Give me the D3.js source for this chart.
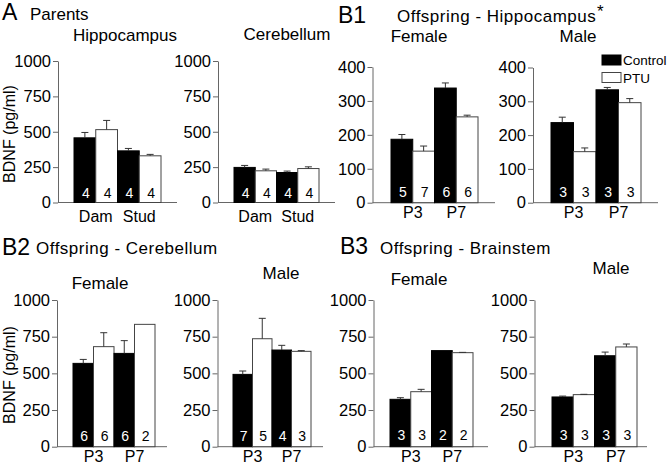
<!DOCTYPE html>
<html><head><meta charset="utf-8">
<script src="https://cdn.jsdelivr.net/npm/d3@7"></script>
<style>
body{margin:0;background:#fff;}
svg{display:block;font-family:"Liberation Sans",Arial,Helvetica,sans-serif;}
</style></head>
<body><svg id="chart" width="667" height="466"></svg>
<script>
// ---- Data ----
const seriesNames = ["Control", "PTU"];
const parentGroups = ["Dam", "Stud"];
const offspringGroups = ["P3", "P7"];
const ticks1000 = [0, 250, 500, 750, 1000];
const ticks400 = [0, 100, 200, 300, 400];

// order: group1-Control, group1-PTU, group2-Control, group2-PTU
const parentsHipMean = [457, 515, 365, 330];
const parentsHipErr  = [38, 65, 17, 10];
const parentsHipN    = [4, 4, 4, 4];

const parentsCbMean = [248, 224, 212, 240];
const parentsCbErr  = [14, 12, 10, 12];
const parentsCbN    = [4, 4, 4, 4];

const hipFemaleMean = [187, 152, 338, 253];
const hipFemaleErr  = [14, 15, 15, 5];
const hipFemaleN    = [5, 7, 6, 6];

const hipMaleMean = [237, 151, 334, 296];
const hipMaleErr  = [16, 11, 7, 12];
const hipMaleN    = [3, 3, 3, 3];

const cbFemaleMean = [568, 682, 636, 834];
const cbFemaleErr  = [27, 95, 87, 0];
const cbFemaleN    = [6, 6, 6, 2];

const cbMaleMean = [493, 736, 659, 650];
const cbMaleErr  = [23, 139, 32, 5];
const cbMaleN    = [7, 5, 4, 3];

const bsFemaleMean = [323, 375, 655, 641];
const bsFemaleErr  = [11, 16, 0, 2];
const bsFemaleN    = [3, 3, 2, 2];

const bsMaleMean = [339, 355, 620, 680];
const bsMaleErr  = [6, 2, 25, 20];
const bsMaleN    = [3, 3, 3, 3];

// ---- Layout ----
const panels = [
  {mean: parentsHipMean, err: parentsHipErr, n: parentsHipN, groups: parentGroups, ticks: ticks1000,
   ax: 58, axEnd: 177, barL: 74, barR: 161, top: 61, bottom: 202.5, nY: 198, xlY: 222,
   title: "Hippocampus", tx: 125, ty: 41},
  {mean: parentsCbMean, err: parentsCbErr, n: parentsCbN, groups: parentGroups, ticks: ticks1000,
   ax: 218, axEnd: 335, barL: 234, barR: 319, top: 61, bottom: 202.5, nY: 198, xlY: 222,
   title: "Cerebellum", tx: 287, ty: 40},
  {mean: hipFemaleMean, err: hipFemaleErr, n: hipFemaleN, groups: offspringGroups, ticks: ticks400,
   ax: 372.5, axEnd: 495, barL: 391, barR: 478, top: 67, bottom: 202.7, nY: 197, xlY: 218,
   title: "Female", tx: 419, ty: 42},
  {mean: hipMaleMean, err: hipMaleErr, n: hipMaleN, groups: offspringGroups, ticks: ticks400,
   ax: 533, axEnd: 658, barL: 551, barR: 641, top: 67.5, bottom: 202.7, nY: 197, xlY: 218,
   title: "Male", tx: 578, ty: 42},
  {mean: cbFemaleMean, err: cbFemaleErr, n: cbFemaleN, groups: offspringGroups, ticks: ticks1000,
   ax: 57, axEnd: 167, barL: 73, barR: 155, top: 300, bottom: 446.7, nY: 441, xlY: 461.5,
   title: "Female", tx: 100, ty: 289},
  {mean: cbMaleMean, err: cbMaleErr, n: cbMaleN, groups: offspringGroups, ticks: ticks1000,
   ax: 217.5, axEnd: 323, barL: 233, barR: 311, top: 300, bottom: 446.7, nY: 441, xlY: 461.5,
   title: "Male", tx: 281, ty: 279},
  {mean: bsFemaleMean, err: bsFemaleErr, n: bsFemaleN, groups: offspringGroups, ticks: ticks1000,
   ax: 373.5, axEnd: 488, barL: 390, barR: 473, top: 300, bottom: 446.7, nY: 440, xlY: 461.5,
   title: "Female", tx: 419, ty: 285},
  {mean: bsMaleMean, err: bsMaleErr, n: bsMaleN, groups: offspringGroups, ticks: ticks1000,
   ax: 534.5, axEnd: 647, barL: 552, barR: 637, top: 300, bottom: 446.7, nY: 440, xlY: 461.5,
   title: "Male", tx: 611, ty: 274}
];

const svg = d3.select("#chart");
const axisColor = "#666";
const fills = {Control: "#000", PTU: "#fff"};
const font = '"Liberation Sans",Arial,sans-serif';

panels.forEach(p => {
  const g = svg.append("g");
  const maxV = p.ticks[p.ticks.length - 1];
  const y = d3.scaleLinear().domain([0, maxV]).range([p.bottom, p.top]);
  const x0 = d3.scaleBand().domain(p.groups).range([p.barL, p.barR]).padding(0);
  const x1 = d3.scaleBand().domain(seriesNames).range([0, x0.bandwidth()]).padding(0);

  // y axis
  const yAxis = d3.axisLeft(y).tickValues(p.ticks).tickFormat(d3.format("d"))
    .tickSize(5).tickPadding(2).tickSizeOuter(0);
  const ya = g.append("g").attr("transform", `translate(${p.ax},0)`).call(yAxis)
    .attr("font-family", font);
  ya.select(".domain").attr("stroke", axisColor);
  ya.selectAll(".tick line").attr("stroke", axisColor);
  ya.selectAll(".tick text").attr("font-size", 16.5).attr("fill", "#000");

  // x axis line
  g.append("line").attr("x1", p.ax).attr("x2", p.axEnd)
    .attr("y1", y(0)).attr("y2", y(0)).attr("stroke", axisColor);

  const rows = [];
  p.groups.forEach((grp, gi) => seriesNames.forEach((s, si) => {
    const i = gi * 2 + si;
    rows.push({grp, s, v: p.mean[i], e: p.err[i], n: p.n[i]});
  }));

  const bars = g.selectAll(".bar").data(rows).enter().append("g");
  bars.append("rect")
    .attr("x", d => x0(d.grp) + x1(d.s))
    .attr("width", x1.bandwidth())
    .attr("y", d => y(d.v))
    .attr("height", d => y(0) - y(d.v))
    .attr("fill", d => fills[d.s])
    .attr("stroke", d => d.s === "PTU" ? "#444" : "#000")
    .attr("stroke-width", 1);
  // error bars (upper only)
  const eb = bars.filter(d => d.e > 0);
  eb.append("line")
    .attr("x1", d => x0(d.grp) + x1(d.s) + x1.bandwidth() / 2)
    .attr("x2", d => x0(d.grp) + x1(d.s) + x1.bandwidth() / 2)
    .attr("y1", d => y(d.v)).attr("y2", d => y(d.v + d.e))
    .attr("stroke", "#333").attr("stroke-width", 1);
  eb.append("line")
    .attr("x1", d => x0(d.grp) + x1(d.s) + x1.bandwidth() / 2 - 3.5)
    .attr("x2", d => x0(d.grp) + x1(d.s) + x1.bandwidth() / 2 + 3.5)
    .attr("y1", d => y(d.v + d.e)).attr("y2", d => y(d.v + d.e))
    .attr("stroke", "#333").attr("stroke-width", 1);
  // n labels
  bars.append("text")
    .attr("x", d => x0(d.grp) + x1(d.s) + x1.bandwidth() / 2 + 1)
    .attr("y", p.nY)
    .attr("text-anchor", "middle").attr("font-size", 14)
    .attr("fill", d => d.s === "Control" ? "#fff" : "#000")
    .text(d => d.n);

  // group labels
  g.selectAll(".xl").data(p.groups).enter().append("text")
    .attr("x", d => x0(d) + x0.bandwidth() / 2)
    .attr("y", p.xlY).attr("text-anchor", "middle").attr("font-size", 16)
    .text(d => d);

  // subtitle
  g.append("text").attr("x", p.tx).attr("y", p.ty).attr("text-anchor", "middle")
    .attr("font-size", 17).text(p.title);
});

// headings
const heads = [
  {t: "A", x: 2, y: 20, s: 23, ls: 0}, {t: "Parents", x: 30, y: 20, s: 17, ls: 0},
  {t: "B1", x: 338, y: 23, s: 23, ls: 0}, {t: "Offspring - Hippocampus", x: 397, y: 22, s: 17, ls: 0.5},
  {t: "*", x: 597, y: 17, s: 17, ls: 0},
  {t: "B2", x: 2, y: 255, s: 23, ls: 0}, {t: "Offspring - Cerebellum", x: 36, y: 254, s: 17, ls: 0.5},
  {t: "B3", x: 340, y: 254, s: 23, ls: 0}, {t: "Offspring - Brainstem", x: 380, y: 254, s: 17, ls: 0.5}
];
svg.selectAll(".head").data(heads).enter().append("text")
  .attr("x", d => d.x).attr("y", d => d.y).attr("font-size", d => d.s)
  .attr("letter-spacing", d => d.ls).text(d => d.t);

// y axis labels
[{x: 15, y: 134}, {x: 15, y: 375}].forEach(d => {
  svg.append("text").attr("transform", `translate(${d.x},${d.y}) rotate(-90)`)
    .attr("text-anchor", "middle").attr("font-size", 16).text("BDNF (pg/ml)");
});

// legend
const legend = svg.append("g").attr("transform", "translate(602,55)");
legend.selectAll("rect").data(seriesNames).enter().append("rect")
  .attr("x", 0).attr("y", (d, i) => i * 17.5).attr("width", 19).attr("height", 10)
  .attr("fill", d => fills[d]).attr("stroke", d => d === "PTU" ? "#444" : "#000");
legend.selectAll("text").data(seriesNames).enter().append("text")
  .attr("x", 21).attr("y", (d, i) => i * 17.5 + 10).attr("font-size", 13.5).text(d => d);
</script></body></html>
